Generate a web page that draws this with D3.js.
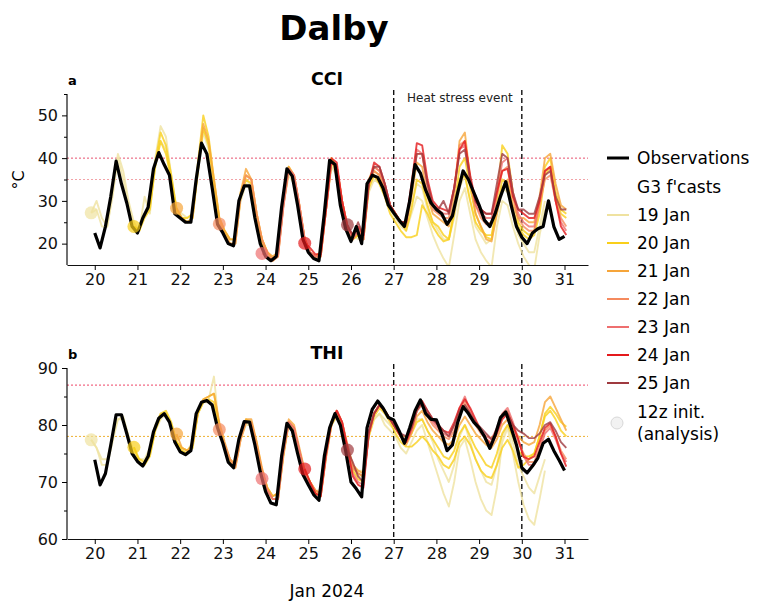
<!DOCTYPE html>
<html>
<head>
<meta charset="utf-8">
<script src="https://cdn.jsdelivr.net/npm/d3@7"></script>
<style>
  body { margin: 0; background: #fff; }
  text { font-family: "DejaVu Sans", sans-serif; }
</style>
</head>
<body>
<svg id="chart"></svg>
<script>
// ---- data ----
var dayTicks = [20, 21, 22, 23, 24, 25, 26, 27, 28, 29, 30, 31];
var eventDays = [27, 30];

var initDays = [19, 20, 21, 22, 23, 24, 25];
var initLabels = ["19 Jan", "20 Jan", "21 Jan", "22 Jan", "23 Jan", "24 Jan", "25 Jan"];
var initColors = ["#efe2a0", "#f9cf1a", "#f6a53a", "#f58a5e", "#ee6f6f", "#e4191c", "#9f3a3f"];

var cciTicks = [20, 30, 40, 50];
var thiTicks = [60, 70, 80, 90];
var cciThresholds = [40, 35];
var thiThresholds = [87, 78];

// observations, 3-hourly from 20 Jan 00 local
var obsCCI = [
  22.5, 19.0, 24.0, 31.0, 39.3, 34.0, 29.5, 24.0,
  22.5, 26, 28.5, 37.5, 41.3, 38.5, 36, 27,
  26, 25, 25, 35, 43.5, 41, 33, 24.5,
  22.5, 20, 19.5, 30, 33.5, 33.5, 26, 20,
  17, 16, 17, 28.5, 37.5, 35.8, 29, 21,
  18, 16.5, 16, 27, 39.5, 38.5, 29, 23.5,
  20.5, 24, 20, 34, 36, 35.5, 33, 29,
  27.2, 25.5, 24, 30, 38.5, 36.5, 32.5, 29.5,
  28, 27, 24.5, 26.5, 32, 37, 35, 32,
  29, 25.5, 24, 27, 31, 34.5, 29, 24,
  21.5, 20, 22.5, 23.5, 24, 30, 24, 21,
  21.7
];
var obsTHI = [
  73.9, 69.5, 71.5, 76.5, 81.8, 81.8, 78.5, 75.0,
  73.6, 72.8, 74.5, 78.8, 81.2, 82.0, 80.5, 77.0,
  75.3, 74.8, 75.5, 82.0, 84.0, 84.3, 83.5, 79.5,
  76.8, 73.5, 72.5, 77.5, 80.6, 80.5, 76.5, 71.8,
  68.3, 66.3, 66.0, 74.5, 80.3, 79.0, 75.0, 71.3,
  69.5, 67.8, 66.8, 74.5, 79.5, 82.0, 80.0, 75.5,
  70.0, 68.8, 67.4, 79.5, 82.8, 84.2, 83.0, 81.3,
  80.9, 79.0, 76.8, 79.5, 82.5, 84.4, 82.0, 81.0,
  80.9, 78.5, 75.5, 76.5, 80.5, 83.2, 82.0, 80.5,
  79.5, 78.0, 75.9, 78.2, 81.3, 82.3, 79.5, 76.5,
  72.5, 71.6, 72.8, 74.2, 76.8, 77.5, 75.5, 73.8,
  72.0
];

// G3 forecasts, 3-hourly from the 12z analysis (22 local) of each init day
var fcCCI19a = [27.2,
  30, 26, 24, 32, 41, 37, 30, 25,
  23, 31, 27, 40, 47.5, 45, 36, 28,
  27, 26, 27, 38, 47, 43, 34, 26,
  23, 21, 21, 30, 34, 32, 26, 21,
  18, 16.5, 18, 29, 36, 34, 28, 21,
  18, 17, 18, 29, 38, 36, 29, 24,
  22, 21, 23, 32, 35, 34, 31, 28,
  26, 24, 23, 27, 31, 30, 26, 22,
  19, 16.5, 14.5, 22, 30, 33, 27, 21,
  18, 16, 14.5, 24, 30, 29, 24, 20,
  17, 15, 14, 22, 28];
var fcCCI19b = [27.2,
  28, 24, 24, 31, 40, 35, 29, 24,
  23, 27, 29, 38, 44, 42, 35, 27,
  26, 25, 26, 37, 46, 42, 33, 25,
  22, 20, 20, 31, 35, 33, 26, 20,
  17, 16, 17, 29, 37, 35, 28, 21,
  18, 16.5, 17, 28, 38, 37, 29, 23,
  21, 22, 21, 33, 36, 35, 32, 29,
  27, 25, 24, 29, 34, 33, 28, 25,
  23, 21, 21, 26, 33, 36, 30, 24,
  22, 20, 21, 27, 33, 32, 27, 22,
  20, 18, 18, 24, 30];
var fcCCI20a = [24,
  23, 27, 29, 39, 46, 43, 36, 28,
  26, 26, 27, 39, 50, 45, 35, 26,
  23, 21, 21, 32, 36, 35, 27, 21,
  18, 16.5, 18, 30, 38, 36, 29, 21,
  18, 17, 18, 29, 40, 38, 30, 24,
  21, 22, 22, 34, 37, 36, 33, 29,
  27, 25, 23, 28, 35, 34, 29, 25,
  24, 22, 21, 28, 38, 40, 33, 27,
  24, 21.5, 21, 30, 43, 41, 32, 25,
  23, 22, 23, 29, 38, 40, 32, 28,
  27];
var fcCCI20b = [24,
  23, 26, 28, 38, 44, 41, 35, 27,
  26, 25, 26, 37, 47, 43, 34, 25,
  22.5, 20, 20, 31, 35, 34, 26, 20,
  17, 16, 17, 29, 37, 35, 28, 21,
  18, 17, 17, 28, 39, 37, 29, 23,
  21, 22, 21, 33, 36, 34, 31, 27,
  25, 23, 21.5, 21.5, 22, 29, 27, 24,
  22, 20.5, 21, 27, 35, 36, 30, 25,
  23, 22, 22, 28, 35, 34, 28, 24,
  22, 21, 22, 27, 36, 38, 31, 27,
  26];
var fcCCI21 = [28.3,
  26, 25, 26, 38, 48, 44, 35, 26,
  23, 21, 21, 32, 37.5, 35, 27, 21,
  18, 17, 18, 30, 38, 36, 29, 21,
  18, 17, 18, 29, 39, 38, 30, 24,
  21, 23, 22, 35, 38, 37, 33, 29,
  27, 25, 24, 31, 39, 38, 31, 27,
  26, 25, 24, 31, 44, 46, 35, 27,
  24, 21, 20.5, 27, 33, 35, 29, 26,
  26, 25, 25, 31, 40, 41, 34, 29,
  28];
var fcCCI22 = [24.6,
  22, 20, 20, 31, 36, 35, 27, 21,
  17.5, 16.5, 17.5, 29, 37.5, 36, 29, 21,
  18, 17, 17, 28, 39, 38, 30, 24,
  21, 23, 21, 34, 37, 36, 33, 29,
  27, 25, 25, 33, 41, 41, 33, 28,
  27, 26, 26, 33, 43, 44, 35, 29,
  26, 24.5, 25, 31, 37, 38, 31, 26,
  24, 23, 23, 29, 35, 36, 30, 26,
  24];
var fcCCI23 = [17.7,
  17, 16, 17, 28.5, 37.5, 36, 29, 21,
  18, 17, 17, 28, 39, 38, 30, 24,
  21, 23, 21, 34, 38, 37, 34, 29,
  27, 25, 25, 33, 42, 41, 34, 29,
  28, 27, 27, 33, 42, 43, 35, 29,
  27, 26, 26, 32, 39, 40, 32, 27,
  25, 24, 24, 30, 37, 38, 30, 25,
  23];
var fcCCI24 = [20.1,
  19, 17.5, 17.5, 28, 40, 39, 30, 24,
  22, 24, 22, 34, 39, 38, 34, 29,
  27, 25, 25, 34, 43.5, 43, 35, 30,
  28.5, 28, 27.5, 33, 42, 44, 36, 30,
  28, 27, 27, 32, 37, 37.5, 31, 28,
  27, 26, 26, 30, 37, 38, 30, 24,
  22];
var fcCCI25 = [24.4,
  22, 25, 22, 34, 38, 38, 34, 29,
  27, 25, 25, 33, 41, 41, 34, 29,
  28, 30, 27, 33, 41, 42, 35, 30,
  28, 27, 27, 34, 41, 40, 32, 28,
  28, 27, 27, 31, 36, 37, 31, 28,
  28];

var fcTHI19a = [77.4,
  76, 74, 74, 78, 81, 81, 78, 75,
  74, 74, 76, 80, 82, 82, 80, 77,
  76, 75.5, 77, 82, 84, 84.5, 88.5, 79,
  76, 74, 73, 78, 80.5, 80, 76, 72,
  69, 67.5, 68, 75, 80, 79, 75, 72,
  70, 68.5, 68.5, 75, 80, 81.5, 79, 76,
  73, 72, 72, 78, 81, 82, 80, 79,
  78, 76, 75, 77, 79, 80, 77, 74,
  71, 68, 65.7, 70, 76, 77.5, 74, 70,
  67, 65, 64.2, 69, 77, 79.5, 75, 70,
  66, 63.5, 62.5, 67, 72];
var fcTHI19b = [77.4,
  76, 73, 73, 77, 81, 81.5, 78, 75,
  73.5, 73, 75, 79, 81, 82, 80, 77,
  75.5, 75, 76, 82, 84, 84, 83, 79,
  76.5, 73.5, 73, 77.5, 80, 80, 76, 72,
  68.5, 67, 67, 74.5, 80, 79, 75, 71.5,
  70, 68, 68, 74, 80, 81.5, 79.5, 76,
  72, 71, 71, 78, 81, 82, 81, 80,
  79, 78, 77, 79, 81, 81, 79, 77,
  74, 72, 70, 73, 78, 80, 77, 74,
  72, 70, 69.5, 73, 78, 80, 77, 73,
  71, 69, 68, 71, 74];
var fcTHI20a = [76.1,
  74, 73.5, 75, 79.5, 82, 82.5, 80.5, 77,
  76, 75.5, 76.5, 82, 84, 84.5, 84, 80,
  76.5, 74, 73, 78, 81, 80.5, 77, 72,
  69, 67.5, 68, 75, 80.5, 79.5, 75.5, 72,
  70, 68.5, 68, 75, 80, 82, 80, 76,
  72.5, 71.5, 71, 78, 81.5, 83, 82, 80.5,
  78.5, 77, 76.2, 76.2, 77, 78, 77, 75.5,
  74.5, 73, 72.4, 74, 77, 78, 76.5, 74,
  72, 71, 70.7, 73, 76, 77.4, 75.5, 72.5,
  73, 74, 75, 78, 82, 83.2, 82, 80.5,
  79.7];
var fcTHI20b = [76.1,
  73.5, 73, 74.5, 79, 81.5, 82, 80, 77,
  75.5, 75, 76, 82.5, 84.5, 85, 85.5, 80,
  76.5, 73.5, 72.5, 77.5, 80.5, 80.5, 76.5, 72,
  68.5, 67, 67, 74.5, 80.5, 79.5, 75, 71.5,
  70, 68, 67.5, 74.5, 80, 82, 80, 76,
  72, 70.5, 70, 78.5, 82, 83.5, 82.5, 81,
  79.5, 78, 77, 78.5, 80.5, 81, 79, 77.5,
  76, 74.5, 74, 75.5, 78.5, 80, 78, 76,
  74.5, 73, 72.5, 75, 78.5, 80, 78, 75.5,
  74.5, 74.5, 75, 78, 81.5, 82.5, 81, 79,
  78];
var fcTHI21 = [78.4,
  76, 75.5, 76.5, 82.5, 84.5, 85, 85.5, 80.5,
  77, 74, 73, 78, 81, 81, 77, 72.5,
  69, 67.5, 68, 75.5, 81, 80, 76, 72,
  70, 68.5, 68, 75, 80.5, 82.5, 80.5, 76.5,
  73, 72, 71.5, 78.5, 82, 83.5, 82.5, 81,
  79.5, 78, 76.5, 78.5, 81.5, 82.5, 80.5, 79,
  78, 77, 76.5, 77.5, 80, 81.5, 80, 78.5,
  77.5, 76.5, 76, 77.5, 80, 81, 79.5, 78,
  77, 76.5, 77, 80, 84, 85, 83, 81,
  79];
var fcTHI22 = [79.2,
  76.5, 74, 72.5, 77.5, 80.5, 80.5, 76.5, 72,
  68.5, 67, 67, 75, 80.5, 79.5, 75.5, 71.5,
  70, 68.5, 68, 75, 80.5, 82.5, 80.5, 76.5,
  72.5, 71.5, 71, 78.5, 82, 83.5, 82.5, 81,
  79.5, 78, 77, 79, 82.5, 83.5, 81.5, 80,
  79, 78, 77.5, 79, 82, 84, 82, 80,
  78.5, 77.5, 77, 79, 81.5, 82.5, 80, 77,
  75, 73.5, 73.5, 76, 79, 80, 78, 75.5,
  74];
var fcTHI23 = [70.6,
  68.5, 67, 67, 75, 80.5, 79.5, 75.5, 71.5,
  69.5, 68, 67.5, 74.5, 80, 82.5, 80.5, 76,
  71.5, 70, 69.5, 78.5, 82, 83.5, 82.5, 81,
  79.5, 78, 77, 79, 82.5, 84, 82, 80.5,
  79.5, 78.5, 78, 80, 83, 85, 82.5, 80.5,
  79, 78, 77.5, 79.5, 82, 83, 80.5, 77.5,
  74.5, 73, 73, 75.5, 78.5, 79.5, 77.5, 75,
  73.5];
var fcTHI24 = [72.3,
  70, 68, 67.5, 75, 80.5, 82.5, 80.5, 76,
  71, 69.5, 69, 78.5, 82, 83.5, 82.5, 81,
  79.5, 78, 77, 79.5, 83, 84.2, 82.5, 81,
  80, 79, 78.6, 80.5, 83, 84.5, 83, 81,
  79, 77.5, 76.5, 78.5, 81, 82, 80, 77.5,
  74.4, 74, 74.5, 77, 79.5, 80.3, 78, 75,
  72.7];
var fcTHI25 = [75.6,
  73.5, 71, 70, 79, 82, 83.5, 82.5, 81,
  79.5, 78.5, 78, 79.5, 82.5, 84, 82.5, 81,
  80, 79, 78, 80, 82.5, 83.5, 82, 80.5,
  79.5, 78.5, 77.5, 79, 81.5, 82, 80, 79,
  78.5, 77.7, 77.7, 78.5, 80, 80.5, 79, 77,
  76];

// ---- layout ----
var width = 764, height = 603;
var step = 0.125;           // 3 hours in days
var analysisHour = 22 / 24; // 12z UTC in local time

var svg = d3.select("#chart").attr("width", width).attr("height", height);

var x = d3.scaleLinear().domain([19.35, 31.55]).range([67, 588]);

var panels = [
  {
    title: "CCI", letter: "a", top: 94, bottom: 265, domain: [15, 55],
    ticks: cciTicks, thresholds: cciThresholds, thresholdColors: ["#e8506e", "#f2a3a8"],
    obs: obsCCI,
    members: [[19, fcCCI19a], [19, fcCCI19b], [20, fcCCI20a], [20, fcCCI20b], [21, fcCCI21],
              [22, fcCCI22], [23, fcCCI23], [24, fcCCI24], [25, fcCCI25]]
  },
  {
    title: "THI", letter: "b", top: 368, bottom: 539, domain: [60, 90],
    ticks: thiTicks, thresholds: thiThresholds, thresholdColors: ["#ee4466", "#eeb030"],
    obs: obsTHI,
    members: [[19, fcTHI19a], [19, fcTHI19b], [20, fcTHI20a], [20, fcTHI20b], [21, fcTHI21],
              [22, fcTHI22], [23, fcTHI23], [24, fcTHI24], [25, fcTHI25]]
  }
];

function colorOf(day) {
  return initColors[initDays.indexOf(day)];
}

panels.forEach(function(p, pi) {
  var y = d3.scaleLinear().domain(p.domain).range([p.bottom, p.top]);
  var g = svg.append("g");

  var clipId = "clip" + pi;
  svg.append("clipPath").attr("id", clipId)
    .append("rect")
    .attr("x", x.range()[0]).attr("y", p.top)
    .attr("width", x.range()[1] - x.range()[0])
    .attr("height", p.bottom - p.top);

  // thresholds
  g.selectAll(".thr").data(p.thresholds).enter()
    .append("line")
    .attr("x1", x.range()[0]).attr("x2", x.range()[1])
    .attr("y1", function(d) { return y(d); })
    .attr("y2", function(d) { return y(d); })
    .attr("stroke", function(d, i) { return p.thresholdColors[i]; })
    .attr("stroke-width", 1)
    .attr("stroke-dasharray", "2,2");

  // heat stress event markers
  g.selectAll(".ev").data(eventDays).enter()
    .append("line")
    .attr("x1", function(d) { return x(d); })
    .attr("x2", function(d) { return x(d); })
    .attr("y1", p.top - 4).attr("y2", p.bottom)
    .attr("stroke", "#111")
    .attr("stroke-width", 1.4)
    .attr("stroke-dasharray", "5,3");

  var plot = g.append("g").attr("clip-path", "url(#" + clipId + ")");

  function fcLine(start) {
    return d3.line()
      .x(function(d, i) { return x(start + i * step); })
      .y(function(d) { return y(d); });
  }

  p.members.forEach(function(m) {
    var start = m[0] + analysisHour;
    plot.append("path")
      .datum(m[1])
      .attr("d", fcLine(start))
      .attr("fill", "none")
      .attr("stroke", colorOf(m[0]))
      .attr("stroke-width", 1.9)
      .attr("stroke-opacity", 0.8)
      .attr("stroke-linejoin", "round");
  });

  var obsLine = d3.line()
    .x(function(d, i) { return x(20 + i * step); })
    .y(function(d) { return y(d); });

  plot.append("path")
    .datum(p.obs)
    .attr("d", obsLine)
    .attr("fill", "none")
    .attr("stroke", "#000")
    .attr("stroke-width", 3.2)
    .attr("stroke-linejoin", "round");

  // analysis dots, one per init day
  var dots = initDays.map(function(d) {
    var m = p.members.find(function(mm) { return mm[0] == d; });
    return [d, m[1][0]];
  });
  plot.selectAll(".dot").data(dots).enter()
    .append("circle")
    .attr("cx", function(d) { return x(d[0] + analysisHour); })
    .attr("cy", function(d) { return y(d[1]); })
    .attr("r", 6.5)
    .attr("fill", function(d) { return colorOf(d[0]); })
    .attr("fill-opacity", 0.7);

  // axes
  var xAxis = g.append("g")
    .attr("transform", "translate(0," + p.bottom + ")")
    .call(d3.axisBottom(x).tickValues(dayTicks).tickSize(5).tickSizeOuter(0).tickPadding(4));
  var yAxis = g.append("g")
    .attr("transform", "translate(" + x.range()[0] + ",0)")
    .call(d3.axisLeft(y).tickValues(p.ticks).tickSize(5).tickSizeOuter(0).tickPadding(4));
  var minor = d3.range(p.domain[0] + 5, p.domain[1] + 0.1, 5).filter(function(v) {
    return p.ticks.indexOf(v) < 0;
  });
  g.append("g")
    .attr("transform", "translate(" + x.range()[0] + ",0)")
    .call(d3.axisLeft(y).tickValues(minor).tickSize(3).tickFormat("").tickSizeOuter(0))
    .select(".domain").remove();

  [xAxis, yAxis].forEach(function(a) {
    a.selectAll("text").attr("font-size", 16).attr("fill", "#111")
      .attr("font-family", "DejaVu Sans, sans-serif");
    a.select(".domain").attr("stroke", "#111").attr("stroke-width", 1.2);
  });
  yAxis.select(".domain").attr("d", "M0," + p.top + "V" + p.bottom);

  // panel titles
  svg.append("text")
    .attr("x", 327).attr("y", p.top - 9)
    .attr("text-anchor", "middle")
    .attr("font-size", 17.5).attr("font-weight", "bold")
    .text(p.title);
  svg.append("text")
    .attr("x", 68).attr("y", p.top - 9)
    .attr("font-size", 13).attr("font-weight", "bold")
    .text(p.letter);
});

svg.append("text")
  .attr("x", 407).attr("y", 102)
  .attr("font-size", 12).attr("fill", "#222")
  .text("Heat stress event");

svg.append("text")
  .attr("x", 334).attr("y", 40)
  .attr("text-anchor", "middle")
  .attr("font-size", 34).attr("font-weight", "bold")
  .text("Dalby");

svg.append("text")
  .attr("transform", "translate(24,180) rotate(-90)")
  .attr("text-anchor", "middle")
  .attr("font-size", 16)
  .text("°C");

svg.append("text")
  .attr("x", 327).attr("y", 597)
  .attr("text-anchor", "middle")
  .attr("font-size", 17)
  .text("Jan 2024");

// ---- legend ----
var legend = svg.append("g");
var lx = 607, tx = 637;

legend.append("line")
  .attr("x1", lx).attr("x2", lx + 22).attr("y1", 158).attr("y2", 158)
  .attr("stroke", "#000").attr("stroke-width", 3);
legend.append("text").attr("x", tx).attr("y", 164).attr("font-size", 17).text("Observations");
legend.append("text").attr("x", tx).attr("y", 193).attr("font-size", 17).text("G3 f'casts");

legend.selectAll(".fc").data(initLabels).enter()
  .append("g")
  .each(function(d, i) {
    var cy = 215 + i * 28;
    d3.select(this).append("line")
      .attr("x1", lx).attr("x2", lx + 22).attr("y1", cy).attr("y2", cy)
      .attr("stroke", initColors[i]).attr("stroke-width", 2);
    d3.select(this).append("text")
      .attr("x", tx).attr("y", cy + 6).attr("font-size", 17).text(d);
  });

legend.append("circle")
  .attr("cx", lx + 10).attr("cy", 423).attr("r", 6)
  .attr("fill", "#f2f2f2").attr("stroke", "#d8d8d8").attr("stroke-width", 1);
legend.append("text").attr("x", tx).attr("y", 418).attr("font-size", 17).text("12z init.");
legend.append("text").attr("x", tx).attr("y", 440).attr("font-size", 17).text("(analysis)");
</script>
</body>
</html>
